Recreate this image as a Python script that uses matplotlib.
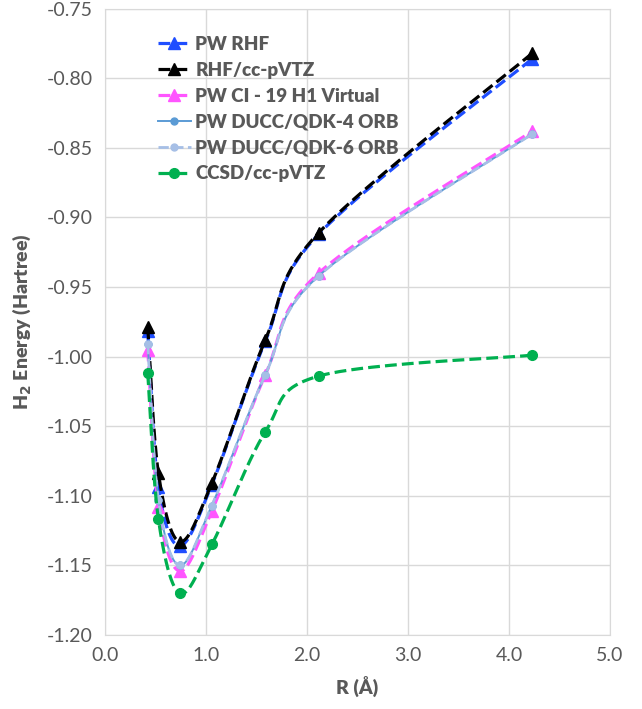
import numpy as np
import matplotlib.pyplot as plt

plt.rcParams['font.family'] = ['Lato', 'DejaVu Sans']

# bond lengths (Angstrom)
r = [0.423, 0.529, 0.741, 1.058, 1.588, 2.117, 4.233]

pw_rhf = [-0.982, -1.094, -1.136, -1.092, -0.989, -0.912, -0.786]
rhf_vtz = [-0.979, -1.084, -1.133, -1.091, -0.988, -0.911, -0.782]
pw_ci = [-0.995, -1.108, -1.154, -1.111, -1.013, -0.940, -0.838]
ducc4 = [-0.991, -1.103, -1.150, -1.107, -1.013, -0.942, -0.840]
ducc6 = [-0.991, -1.103, -1.150, -1.107, -1.013, -0.942, -0.840]
ccsd_vtz = [-1.012, -1.117, -1.170, -1.135, -1.054, -1.014, -0.999]

labels = ["PW RHF", "RHF/cc-pVTZ", "PW CI - 19 H1 Virtual",
          "PW DUCC/QDK-4 ORB", "PW DUCC/QDK-6 ORB", "CCSD/cc-pVTZ"]

GRAY = "#595959"
NSEG = 40


def smooth(x, y, n=NSEG):
    # Excel-style smoothed line (Catmull-Rom Bezier through the points)
    p = np.column_stack([x, y]).astype(float)
    ext = np.vstack([p[0], p, p[-1]])
    t = np.linspace(0, 1, n, endpoint=False)[:, None]
    out = []
    for i in range(len(p) - 1):
        p0, p1 = ext[i + 1], ext[i + 2]
        c1 = p0 + (ext[i + 2] - ext[i]) / 6
        c2 = p1 - (ext[i + 3] - ext[i + 1]) / 6
        out.append((1 - t) ** 3 * p0 + 3 * (1 - t) ** 2 * t * c1
                   + 3 * (1 - t) * t ** 2 * c2 + t ** 3 * p1)
    out.append(p[-1:])
    s = np.vstack(out)
    return s[:, 0], s[:, 1]


fig = plt.figure(figsize=(6.42, 7.09), dpi=100)
ax = fig.add_axes([0.1636, 0.1044, 0.7864, 0.8836])

styles = [
    (pw_rhf, dict(color="#1F4EFF", ls="--", lw=2.3, marker="^", ms=8)),
    (rhf_vtz, dict(color="black", ls="--", lw=2.3, marker="^", ms=8)),
    (pw_ci, dict(color="#FF55FF", ls="--", lw=2.3, marker="^", ms=8)),
    (ducc4, dict(color="#5B9BD5", ls="-", lw=1.4, marker="o", ms=5)),
    (ducc6, dict(color="#A6BFE6", ls="--", lw=2.0, marker="o", ms=5)),
    (ccsd_vtz, dict(color="#00B050", ls="--", lw=2.3, marker="o", ms=7)),
]

marks = list(range(0, NSEG * (len(r) - 1) + 1, NSEG))
for (vals, st), lab in zip(styles, labels):
    sx, sy = smooth(r, vals)
    ax.plot(sx, sy, markevery=marks, label=lab, **st)

ax.set_xlim(0, 5)
ax.set_ylim(-1.20, -0.75)
ax.set_xticks(np.arange(0, 5.01, 1.0))
ax.set_yticks(np.arange(-1.20, -0.749, 0.05))
ax.set_xticklabels([f"{v:.1f}" for v in np.arange(0, 5.01, 1.0)])
ax.set_yticklabels([f"{v:.2f}" for v in np.arange(-1.20, -0.749, 0.05)])
ax.tick_params(length=0, labelsize=14, colors=GRAY, pad=9)
ax.grid(True, color="#D9D9D9", lw=1)
ax.set_axisbelow(True)
for sp in ax.spines.values():
    sp.set_color("#D9D9D9")

ax.set_xlabel("R (Å)", fontsize=14, fontweight="heavy", color=GRAY, labelpad=8)
ax.set_ylabel("H$_\\mathbf{2}$ Energy (Hartree)", fontsize=14,
              fontweight="heavy", color=GRAY, labelpad=10)

leg = ax.legend(loc="upper left", bbox_to_anchor=(0.09, 0.968), frameon=False,
                fontsize=13.5, handlelength=1.75, handletextpad=0.25,
                labelspacing=0.47, borderaxespad=0)
for t in leg.get_texts():
    t.set_color(GRAY)
    t.set_fontweight("heavy")

plt.savefig("out.png", dpi=100)
